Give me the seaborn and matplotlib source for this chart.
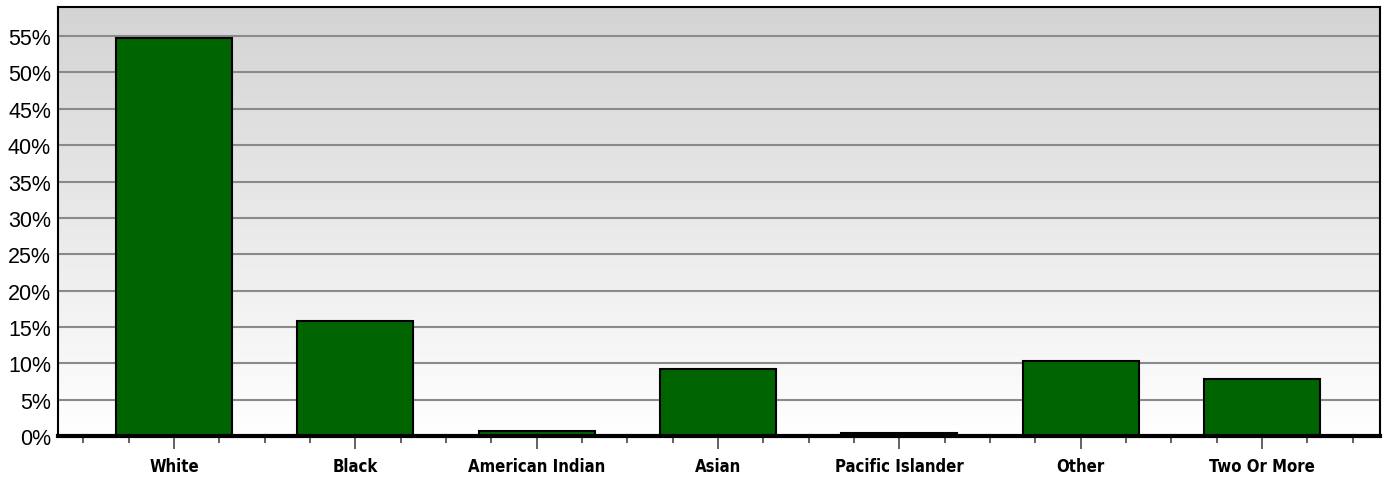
import numpy as np
import pandas as pd
import matplotlib
matplotlib.use("Agg")
import matplotlib.pyplot as plt
import seaborn as sns
from matplotlib.ticker import MultipleLocator, FuncFormatter

categories = ["White", "Black", "American Indian", "Asian", "Pacific Islander", "Other", "Two Or More"]
values = [54.8, 15.8, 0.7, 9.2, 0.4, 10.3, 7.8]

sns.set_style("white")
plt.rcParams['font.family'] = ['Liberation Sans', 'DejaVu Sans']

df = pd.DataFrame({"category": categories, "value": values})

fig = plt.figure(figsize=(13.84, 4.81), dpi=100)
ax = fig.add_axes([58/1384, 1 - 437/481, (1380-58)/1384, (437-8)/481])

sns.barplot(data=df, x="category", y="value", color="#006400", width=0.64,
            edgecolor="black", linewidth=1.5, saturation=1, ax=ax, zorder=3)

# gradient background
grad = np.linspace(0, 1, 256).reshape(-1, 1)
top = np.array([0.83, 0.83, 0.83])
bot = np.array([1.0, 1.0, 1.0])
img = top[None, None, :] * (1 - grad[..., None]) + bot[None, None, :] * grad[..., None]
ax.imshow(img, extent=[-0.64, 6.65, 0, 59], aspect="auto", origin="upper", zorder=0)
ax.set_xlim(-0.64, 6.65)
ax.set_ylim(0, 59)

ax.yaxis.set_major_locator(MultipleLocator(5))
ax.yaxis.set_major_formatter(FuncFormatter(lambda v, p: f"{int(round(v))}%"))
ax.grid(axis="y", color="#8a8a8a", linewidth=1.5, zorder=1)
ax.set_axisbelow(True)
for gl in ax.get_ygridlines():
    gl.set_zorder(1)

ax.set_xlabel("")
ax.set_ylabel("")
ax.tick_params(axis="y", length=0, labelsize=15.5, pad=5, colors="black")
ax.xaxis.set_minor_locator(MultipleLocator(0.25))
ax.tick_params(axis="x", which="both", bottom=True, direction="out", color="#555555", width=1.3)
ax.tick_params(axis="x", which="major", length=9, pad=6, labelsize=13)
ax.tick_params(axis="x", which="minor", length=5)
for lab in ax.get_xticklabels():
    lab.set_family(['DejaVu Sans', 'Liberation Sans'])
    lab.set_stretch('condensed')
    lab.set_fontweight('semibold')
    lab.set_fontsize(12)
    lab.set_color('black')

for side in ["top", "right", "left"]:
    ax.spines[side].set_visible(True)
    ax.spines[side].set_color("black")
    ax.spines[side].set_linewidth(1.5)
ax.spines["bottom"].set_color("black")
ax.spines["bottom"].set_linewidth(3)
ax.spines["bottom"].set_zorder(5)

fig.savefig("out.png", dpi=100, facecolor="white")
